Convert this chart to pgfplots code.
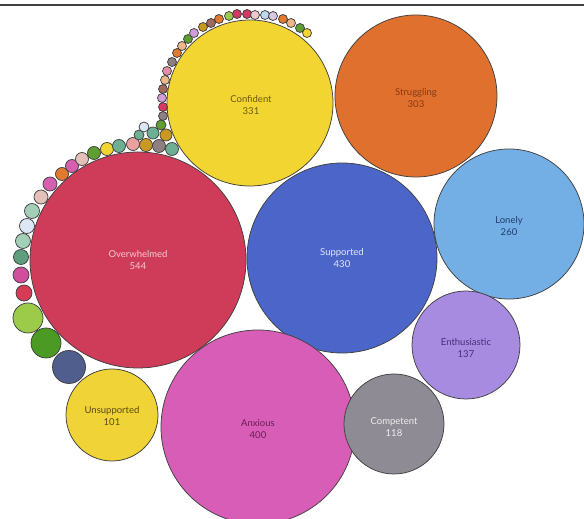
\documentclass[border=0pt]{standalone}
\usepackage{pgfplots}
\pgfplotsset{compat=1.18}
\usepackage{pgfplotstable}
\usepackage{fontspec}
\setmainfont{Lato}

% bubble colours
\definecolor{cOver}{HTML}{CF3C59}
\definecolor{cSupp}{HTML}{4B66C8}
\definecolor{cConf}{HTML}{F2D531}
\definecolor{cStrug}{HTML}{E0702E}
\definecolor{cLone}{HTML}{73AEE5}
\definecolor{cAnx}{HTML}{D75DB6}
\definecolor{cEnth}{HTML}{A68BE0}
\definecolor{cComp}{HTML}{8E8B95}
\definecolor{cUns}{HTML}{F0D336}
% small ones
\definecolor{sPk}{HTML}{D65FB0}
\definecolor{sBg}{HTML}{E3C0B8}
\definecolor{sMint}{HTML}{A3CFB8}
\definecolor{sPblue}{HTML}{DDE6F7}
\definecolor{sDteal}{HTML}{5E9E7E}
\definecolor{sMag}{HTML}{D04E9B}
\definecolor{sRed}{HTML}{D63A55}
\definecolor{sLgreen}{HTML}{9CCB4A}
\definecolor{sDgreen}{HTML}{4A9A24}
\definecolor{sNavy}{HTML}{4F5E8C}
\definecolor{sOrange}{HTML}{E07A2E}
\definecolor{sGreen}{HTML}{5F9E30}
\definecolor{sYellow}{HTML}{F2D532}
\definecolor{sTeal}{HTML}{6DAF94}
\definecolor{sSalmon}{HTML}{E8A0A0}
\definecolor{sOchre}{HTML}{C99820}
\definecolor{sGrey}{HTML}{8E7F82}
\definecolor{sLilac}{HTML}{D29ED8}
\definecolor{sBrown}{HTML}{9E6A5E}
\definecolor{sPeach}{HTML}{EDB78A}
\definecolor{sCrimson}{HTML}{D23A62}
\definecolor{sLpink}{HTML}{E58FA8}
\definecolor{sPpink}{HTML}{ECC8D0}
\definecolor{sPlblue}{HTML}{BFD8F2}
\definecolor{sPlilac}{HTML}{D8C8E0}
% label colours
\definecolor{tOver}{HTML}{F4C8D0}
\definecolor{tSupp}{HTML}{E4E8F8}
\definecolor{tConf}{HTML}{6B5A10}
\definecolor{tStrug}{HTML}{8A3A12}
\definecolor{tLone}{HTML}{1F3F6E}
\definecolor{tEnth}{HTML}{4A2E7A}
\definecolor{tComp}{HTML}{EEEEEE}
\definecolor{tAnx}{HTML}{6A1E55}
\definecolor{tUns}{HTML}{5A4A10}

\tikzset{lbl/.style={align=center, font=\fontsize{9.5}{12}\selectfont}}

% x, py in picture pixels (py from top), r = bubble radius
\pgfplotstableread{
x   py   r    c
138 260 108   cOver
342 258  95   cSupp
250 103  83   cConf
416  96  81   cStrug
509 224  75   cLone
258 427  97   cAnx
466 345  54   cEnth
394 424  50   cComp
112 415  46   cUns
50  184  7    sPk
41  197  7    sBg
32  211  7.5  sMint
27  226  7.5  sPblue
23  241  7.5  sMint
21  257  7.5  sDteal
21  275  8    sMag
24  293  8    sRed
28  318  15   sLgreen
46  343  15   sDgreen
69  367  16.5 sNavy
62  174  6.5  sOrange
72  166  6.5  sPk
82  159  6.5  sBg
94  153  6.5  sGreen
107 149  6.5  sYellow
119 146  6.5  sTeal
133 144  6.5  sSalmon
146 145  6.5  sOchre
159 146  6.5  sGrey
172 149  6.5  sTeal
139 135  5    sTeal
144 127  5    sPblue
153 133  6    sTeal
166 135  6    sOchre
161 125  5    sGreen
163 116  4.5  sGrey
163 107  4.5  sCrimson
162  98  4.5  sLilac
163  89  4.5  sBrown
165  80  4.5  sPeach
167  71  4.5  sLpink
172  62  4.5  sGrey
177  53  4.5  sOrange
182  46  4.5  sPeach
188  39  4.5  sGreen
194  33  4.5  sLilac
203  27  4.5  sOchre
211  23  4.5  sBrown
219  19  4.5  sOrange
229  16  4.5  sLgreen
237  14  4.5  sCrimson
247  14  4.5  sCrimson
255  15  4.5  sPpink
265  15  4.5  sPlblue
273  16  4.5  sPlilac
283  19  4.5  sOrange
291  23  4.5  sPeach
300  28  4.5  sGreen
307  33  4.5  sYellow
}\bubbles

\begin{document}
\begin{tikzpicture}
\useasboundingbox (0,0) rectangle (584pt,519pt);
\begin{axis}[
    at={(0,0)}, anchor=south west,
    scale only axis, width=584pt, height=519pt,
    xmin=0, xmax=584, ymin=0, ymax=519,
    hide axis, clip=false]
  \addplot[scatter, only marks, mark=*,
    point meta=explicit symbolic,
    visualization depends on={\thisrow{r}\as\rad},
    scatter/@pre marker code/.code={%
      \edef\col{\pgfplotspointmeta}%
      \scope[mark size=\rad, fill=\col, draw=black!75, line width=0.75pt]},
    scatter/@post marker code/.code={\endscope}]
    table[x=x, y expr=519-\thisrow{py}, meta=c] {\bubbles};
  \coordinate (lOver) at (axis cs:138,259);
  \coordinate (lSupp) at (axis cs:342,261);
  \coordinate (lConf) at (axis cs:251,414);
  \coordinate (lStrug) at (axis cs:416,421);
  \coordinate (lLone) at (axis cs:509,293);
  \coordinate (lEnth) at (axis cs:466,171);
  \coordinate (lComp) at (axis cs:394,92);
  \coordinate (lAnx) at (axis cs:258,90);
  \coordinate (lUns) at (axis cs:112,103);
\end{axis}
\node[lbl, text=tOver] at (lOver) {Overwhelmed\\544};
\node[lbl, text=tSupp] at (lSupp) {Supported\\430};
\node[lbl, text=tConf] at (lConf) {Confident\\331};
\node[lbl, text=tStrug] at (lStrug) {Struggling\\303};
\node[lbl, text=tLone] at (lLone) {Lonely\\260};
\node[lbl, text=tEnth] at (lEnth) {Enthusiastic\\137};
\node[lbl, text=tComp] at (lComp) {Competent\\118};
\node[lbl, text=tAnx] at (lAnx) {Anxious\\400};
\node[lbl, text=tUns] at (lUns) {Unsupported\\101};
\draw[black!75, line width=1.6pt] (0,514pt) -- (584pt,514pt);
\end{tikzpicture}
\end{document}
